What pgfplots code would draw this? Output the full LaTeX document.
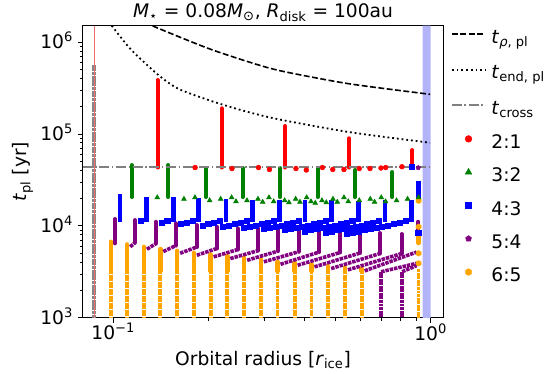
\documentclass[border=0pt]{standalone}
\usepackage{fontspec}
\setmainfont{DejaVu Sans}
\usepackage{pgfplots}
\pgfplotsset{compat=1.18}
\definecolor{mred}{RGB}{255,0,0}
\definecolor{mgreen}{RGB}{0,128,0}
\definecolor{mblue}{RGB}{0,0,255}
\definecolor{mpurple}{RGB}{128,0,128}
\definecolor{morange}{RGB}{255,165,0}
\definecolor{mgray}{RGB}{128,128,128}
\definecolor{cgray}{RGB}{135,135,135}
\definecolor{lred}{RGB}{240,110,110}
\definecolor{lband}{RGB}{179,179,250}
\newcommand{\fs}{\fontsize{14}{16.8}\selectfont}
\pgfdeclareplotmark{hexagon*}{%
  \pgfpathmoveto{\pgfqpointpolar{90}{1.1\pgfplotmarksize}}%
  \pgfpathlineto{\pgfqpointpolar{150}{1.1\pgfplotmarksize}}%
  \pgfpathlineto{\pgfqpointpolar{210}{1.1\pgfplotmarksize}}%
  \pgfpathlineto{\pgfqpointpolar{270}{1.1\pgfplotmarksize}}%
  \pgfpathlineto{\pgfqpointpolar{330}{1.1\pgfplotmarksize}}%
  \pgfpathlineto{\pgfqpointpolar{30}{1.1\pgfplotmarksize}}%
  \pgfpathclose\pgfusepathqfillstroke}
\pgfplotsset{
  lineleg/.style={legend image code/.code={\draw[##1] (0pt,4.5pt) -- (25pt,4.5pt);}},
  markleg/.style={legend image code/.code={\draw[##1] plot coordinates {(12.5pt,4.2pt)};}},
  every axis title/.style={at={(0.5,1)}, anchor=base, yshift=5.8pt, font=\fs, inner sep=0pt},
}
\begin{document}
\begin{tikzpicture}
\begin{axis}[
  scale only axis, width=270.45pt, height=219pt,
  xmode=log, ymode=log,
  xmin=0.0801, xmax=1.096, ymin=1000, ymax=1.504e6,
  unbounded coords=jump,
  tick pos=left, tick align=outside,
  major tick length=3.7pt, minor tick length=2.1pt,
  tick style={black, line width=0.6pt},
  axis line style={line width=0.6pt},
  xtick={0.1,1}, xticklabels={10\textsuperscript{−1},10\textsuperscript{0}},
  ytick={1000,10000,100000,1000000},
  yticklabels={10\textsuperscript{3},10\textsuperscript{4},10\textsuperscript{5},10\textsuperscript{6}},
  tick label style={font=\fs},
  xticklabel style={yshift=3pt},
  yticklabel style={anchor=base east, yshift=-5.1pt},
  title={\textit{M}\textsubscript{⋆} = 0.08\textit{M}\textsubscript{⊙}, \textit{R}\textsubscript{disk} = 100au},
  xlabel={Orbital radius [\textit{r}\textsubscript{ice}]},
  xlabel style={font=\fs, inner sep=0pt, at={(axis description cs:0.5,0)}, anchor=base, yshift=-35.9pt},
  ylabel={\textit{t}\textsubscript{pl} [yr]},
  ylabel style={font=\fs, inner sep=0pt, at={(axis description cs:-0.1545,0.5)}, anchor=base},
  legend style={draw=none, fill=none, font=\fs, at={(axis description cs:1.0205,0.9873)},
    anchor=north west, inner sep=0pt, row sep=11pt, column sep=4pt,
    nodes={inner sep=0pt, text height=10pt, text depth=4pt}},
  legend cell align=left,
]
% ice-line band and inner edge
\addplot[forget plot, draw=none, fill=lband] coordinates {(0.9436,1000) (1.0,1000) (1.0,1.504e6) (0.9436,1.504e6)} \closedcycle;
\addplot[forget plot, cgray, line width=3.4pt, dash pattern=on 2.4pt off 0.4pt] coordinates {(0.0871,1000) (0.0871,562000)};
\addplot[forget plot, lred, line width=1pt] coordinates {(0.0871,1000) (0.0871,1.504e6)};

% ---- 6:5 (orange) ----
\addplot[forget plot, morange, line width=3.3pt, line cap=round] coordinates {
(0.0983,6714)(0.0983,3220)(0.0983,nan)
(0.1107,6290)(0.1107,3220)(0.1107,nan)
(0.1249,5924)(0.1249,3220)(0.1249,nan)
(0.1407,5593)(0.1407,3220)(0.1407,nan)
(0.1589,5359)(0.1589,3220)(0.1589,nan)
(0.1794,5097)(0.1794,3220)(0.1794,nan)
(0.2027,4896)(0.2027,3220)(0.2027,nan)
(0.2288,4692)(0.2288,3220)(0.2288,nan)
(0.2585,4496)(0.2585,3220)(0.2585,nan)
(0.2917,4319)(0.2917,3220)(0.2917,nan)
(0.3293,4068)(0.3293,3220)(0.3293,nan)
(0.3728,3967)(0.3728,3220)(0.3728,nan)
(0.4212,3811)(0.4212,3220)(0.4212,nan)
(0.4754,3652)(0.4754,3220)(0.4754,nan)
(0.5370,3535)(0.5370,3220)(0.5370,nan)
(0.6062,3448)(0.6062,3220)(0.6062,nan)
(0.9161,8351)(0.9161,6500)(0.9161,nan)
};
\addplot[forget plot, morange, line width=2.8pt, dash pattern=on 2.2pt off 0.45pt] coordinates {
(0.0983,3220)(0.0983,1000)(0.0983,nan)
(0.1107,3220)(0.1107,1000)(0.1107,nan)
(0.1249,3220)(0.1249,1000)(0.1249,nan)
(0.1407,3220)(0.1407,1000)(0.1407,nan)
(0.1589,3220)(0.1589,1000)(0.1589,nan)
(0.1794,3220)(0.1794,1000)(0.1794,nan)
(0.2027,3220)(0.2027,1000)(0.2027,nan)
(0.2288,3220)(0.2288,1000)(0.2288,nan)
(0.2585,3220)(0.2585,1000)(0.2585,nan)
(0.2917,3220)(0.2917,1000)(0.2917,nan)
(0.3293,3220)(0.3293,1000)(0.3293,nan)
(0.3728,3220)(0.3728,1000)(0.3728,nan)
(0.4212,3220)(0.4212,1000)(0.4212,nan)
(0.4754,3220)(0.4754,1000)(0.4754,nan)
(0.5370,3220)(0.5370,1000)(0.5370,nan)
(0.6062,3220)(0.6062,1000)(0.6062,nan)
(0.9161,3362)(0.9161,1000)(0.9161,nan)
};
\addplot[forget plot, only marks, mark=hexagon*, mark size=1.9pt, morange] coordinates {
(0.9161,18760)(0.9161,9777)(0.9161,5021)(0.9161,3908)};

% ---- 5:4 (purple) ----
\addplot[forget plot, mpurple, line width=2.7pt, dash pattern=on 2.6pt off 0.7pt] coordinates {
(0.11312,5909)(0.1171,6580)(0.1171,nan)
(0.12769,5565)(0.1363,6417)(0.1363,nan)
(0.14382,5253)(0.1575,6104)(0.1575,nan)
(0.16246,5034)(0.1832,5880)(0.1832,nan)
(0.18339,4787)(0.2117,5661)(0.2117,nan)
(0.20716,4599)(0.2465,5522)(0.2465,nan)
(0.23384,4407)(0.2862,5385)(0.2862,nan)
(0.26415,4224)(0.3309,5318)(0.3309,nan)
(0.29817,4058)(0.3855,5252)(0.3855,nan)
(0.33658,3820)(0.4457,5186)(0.4457,nan)
(0.38103,3726)(0.5178,5121)(0.5178,nan)
(0.43042,3580)(0.5987,5058)(0.5987,nan)
(0.48586,3430)(0.6921,4995)(0.6921,nan)
(0.54883,3320)(0.8100,4995)(0.8100,nan)
(0.61952,3238)(0.9034,5186)(0.9034,nan)
(0.6982,3166)(0.9034,3908)(0.9034,nan)
(0.8130,3166)(0.9034,3699)(0.9034,nan)
};
\addplot[forget plot, mpurple, line width=3pt, line cap=round] coordinates {
(0.1012,11860)(0.1012,6450)(0.1012,nan)
(0.1171,11560)(0.1171,6580)(0.1171,nan)
(0.1363,11080)(0.1363,6417)(0.1363,nan)
(0.1575,10650)(0.1575,6104)(0.1575,nan)
(0.1832,10200)(0.1832,5880)(0.1832,nan)
(0.2117,9777)(0.2117,5661)(0.2117,nan)
(0.2465,9393)(0.2465,5522)(0.2465,nan)
(0.2862,9393)(0.2862,5385)(0.2862,nan)
(0.3309,9231)(0.3309,5318)(0.3309,nan)
(0.3855,9002)(0.3855,5252)(0.3855,nan)
(0.4457,8890)(0.4457,5186)(0.4457,nan)
(0.5178,8779)(0.5178,5121)(0.5178,nan)
(0.5987,8562)(0.5987,5058)(0.5987,nan)
(0.6921,8351)(0.6921,4995)(0.6921,nan)
(0.8100,8144)(0.8100,4995)(0.8100,nan)
(0.9140,11080)(0.9140,8288)(0.9140,nan)
};
\addplot[forget plot, mpurple, line width=2.6pt, dash pattern=on 2.2pt off 0.45pt] coordinates {
(0.6982,3166)(0.6982,1000)(0.6982,nan)
(0.8130,3166)(0.8130,1000)(0.8130,nan)
};
\addplot[forget plot, only marks, mark=pentagon*, mark size=1.7pt, mpurple] coordinates {(0.9140,42880)};

% ---- 4:3 (blue) ----
\addplot[forget plot, mblue, line width=3.5pt] coordinates {
(0.1050,22180)(0.1050,11000)(0.1050,nan)
(0.1274,20580)(0.1274,11000)(0.1274,nan)
(0.1545,20580)(0.1545,11000)(0.1545,nan)
(0.1853,20220)(0.1853,11000)(0.1853,nan)
(0.2265,19570)(0.2265,11000)(0.2265,nan)
(0.2741,19090)(0.2741,11000)(0.2741,nan)
(0.3334,19090)(0.3334,11000)(0.3334,nan)
(0.4018,19090)(0.4018,11000)(0.4018,nan)
(0.4876,19090)(0.4876,11000)(0.4876,nan)
(0.5911,18610)(0.5911,11000)(0.5911,nan)
(0.7178,19090)(0.7178,11000)(0.7178,nan)
(0.8711,19090)(0.8711,11000)(0.8711,nan)
(0.9140,30960)(0.9140,18760)(0.9140,nan)
};
\addplot[forget plot, only marks, mark=square*, mark size=1.9pt, mblue] coordinates {
(0.8711,43970)(0.9140,8500)
(0.1221,11360)
(0.1480,11360)(0.1418,10920)
(0.1775,11360)(0.1701,10920)(0.1630,10488)
(0.2170,11360)(0.2079,10920)(0.1992,10488)(0.1909,10126)
(0.2626,11360)(0.2516,10920)(0.2411,10488)(0.2310,10126)(0.2213,9802)
(0.3194,11360)(0.3060,10920)(0.2932,10488)(0.2809,10126)(0.2692,9802)(0.2579,9513)
(0.3850,11360)(0.3688,10920)(0.3534,10488)(0.3386,10126)(0.3244,9802)(0.3108,9513)(0.2978,9231)
(0.4672,11360)(0.4476,10920)(0.4288,10488)(0.4109,10126)(0.3937,9802)(0.3772,9513)(0.3614,9231)(0.3462,8978)
(0.5663,11360)(0.5426,10920)(0.5199,10488)(0.4981,10126)(0.4772,9802)(0.4572,9513)(0.4381,9231)(0.4197,8978)(0.4021,8734)
(0.6877,11360)(0.6589,10920)(0.6313,10488)(0.6049,10126)(0.5795,9802)(0.5552,9513)(0.5320,9231)(0.5097,8978)(0.4883,8734)(0.4679,8496)
(0.8346,11360)(0.7996,10920)(0.7661,10488)(0.7340,10126)(0.7033,9802)(0.6738,9513)(0.6456,9231)(0.6185,8978)(0.5926,8734)(0.5678,8496)(0.5440,8265)
};

% ---- 3:2 (green) ----
\addplot[forget plot, mgreen, line width=3pt, line cap=round] coordinates {
(0.1143,45880)(0.1143,20580)(0.1143,nan)
(0.1490,45880)(0.1490,20580)(0.1490,nan)
(0.1959,42550)(0.1959,20580)(0.1959,nan)
(0.2557,42550)(0.2557,20580)(0.2557,nan)
(0.3352,42550)(0.3352,20580)(0.3352,nan)
(0.4406,42550)(0.4406,20580)(0.4406,nan)
(0.5774,40480)(0.5774,20580)(0.5774,nan)
(0.7568,38500)(0.7568,20580)(0.7568,nan)
};
\addplot[forget plot, only marks, mark=triangle*, mark size=2.1pt, mgreen] coordinates {
(0.13760,20320)
(0.18088,20320)(0.16700,19570)
(0.23606,20320)(0.21795,19570)(0.20123,18850)
(0.30941,20320)(0.28568,19570)(0.26377,18850)(0.24354,18380)
(0.40674,20320)(0.37554,19570)(0.34674,18850)(0.32014,18380)(0.29559,18160)
(0.53313,20320)(0.49225,19570)(0.45449,18850)(0.41963,18380)(0.38744,18160)(0.35773,17930)
(0.69881,20320)(0.64521,19570)(0.59572,18850)(0.55003,18380)(0.50784,18160)(0.46889,17930)(0.43292,17700)
(0.91597,20320)(0.84571,19570)(0.78084,18850)(0.72095,18380)(0.66563,18160)
};

% ---- 2:1 (red) ----
\addplot[forget plot, mred, line width=3pt, line cap=round] coordinates {
(0.1380,386000)(0.1380,43100)(0.1380,nan)
(0.2195,190000)(0.2195,43100)(0.2195,nan)
(0.3475,121900)(0.3475,43100)(0.3475,nan)
(0.5528,89600)(0.5528,43100)(0.5528,nan)
(0.8750,66800)(0.8750,43100)(0.8750,nan)
};
\addplot[forget plot, only marks, mark=*, mark size=1.8pt, mred] coordinates {
(0.1811,43100)
(0.2868,43100)(0.2366,42030)
(0.4561,43100)(0.3764,42030)(0.3105,40990)
(0.7219,43100)(0.5957,42030)(0.4915,40990)(0.4057,40480)
(0.6439,42030)(0.5331,40990)(0.6973,42550)(0.8120,43970)
};

% ---- timescale lines ----
\addplot[forget plot, black, line width=1.2pt, dash pattern=on 4.4pt off 1.9pt, smooth] coordinates {
(0.1330,1.504e6)(0.1380,1.420e6)(0.1682,1.073e6)(0.2061,8.163e5)(0.2696,6.013e5)(0.3350,4.875e5)
(0.5058,3.698e5)(0.6442,3.266e5)(0.9954,2.698e5)};
\addplot[forget plot, black, line width=1.35pt, dash pattern=on 1.35pt off 2.2pt, smooth] coordinates {
(0.0989,1.504e6)(0.1011,1.364e6)(0.1125,8.626e5)(0.1274,5.677e5)(0.1437,3.967e5)
(0.1622,3.042e5)(0.2065,2.246e5)(0.2633,1.748e5)(0.3310,1.445e5)(0.5057,1.102e5)
(0.6442,9.727e4)(0.9954,8.017e4)};
\addplot[forget plot, mgray, line width=1.2pt, dash pattern=on 7.5pt off 1.9pt on 1.2pt off 1.9pt] coordinates {
(0.0801,43970)(1.0,43970)};

% ---- legend ----
\addlegendimage{black, line width=1.2pt, dash pattern=on 4.4pt off 1.9pt, lineleg}
\addlegendentry[text depth=5.25pt]{\textit{t}\textsubscript{\textit{ρ}, pl}}
\addlegendimage{black, line width=1.35pt, dash pattern=on 1.35pt off 2.2pt, lineleg}
\addlegendentry[text depth=6.45pt]{\textit{t}\textsubscript{end, pl}}
\addlegendimage{mgray, line width=1.2pt, dash pattern=on 7.5pt off 1.9pt on 1.2pt off 1.9pt, lineleg}
\addlegendentry[text depth=4.5pt]{\textit{t}\textsubscript{cross}}
\addlegendimage{only marks, mark=*, mark size=2.5pt, mred, markleg}
\addlegendentry[text depth=3.75pt]{2:1}
\addlegendimage{only marks, mark=triangle*, mark size=2.8pt, mgreen, markleg}
\addlegendentry[text depth=4.2pt]{3:2}
\addlegendimage{only marks, mark=square*, mark size=2.4pt, mblue, markleg}
\addlegendentry[text depth=3.75pt]{4:3}
\addlegendimage{only marks, mark=pentagon*, mark size=2.3pt, mpurple, markleg}
\addlegendentry[text depth=4.05pt]{5:4}
\addlegendimage{only marks, mark=hexagon*, mark size=2.3pt, morange, markleg}
\addlegendentry{6:5}
\end{axis}
\path ([shift={(-62.0pt,-41.5pt)}]current axis.south west) rectangle ([shift={(78.5pt,19.3pt)}]current axis.north east);
\end{tikzpicture}
\end{document}
